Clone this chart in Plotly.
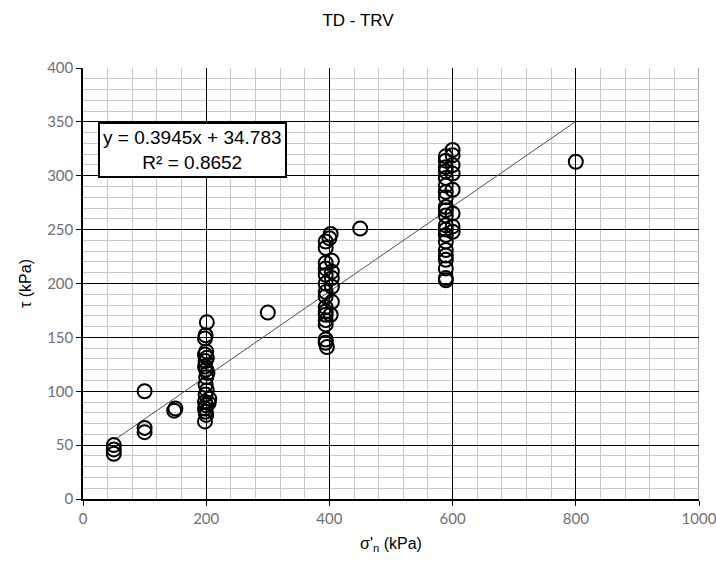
import plotly.graph_objects as go

# Data: effective normal stress (kPa) and shear stress (kPa)
sigma_n = [
    50, 50, 50,
    100, 100, 100,
    148, 150,
    201, 199, 198, 200, 198, 201, 199, 198, 200, 202, 200, 199, 201, 199, 205, 198, 204, 200, 198, 199, 200, 198,
    300,
    402, 400, 394, 394, 404, 394, 394, 404, 394, 404, 394, 404, 394, 394, 404, 394, 394, 394, 402, 394, 394, 394, 396, 394,
    450,
    600, 600, 589, 589, 600, 589, 589, 600, 589, 589, 600, 589, 589, 589, 589, 600, 589, 589, 600, 589, 600, 589, 589, 589, 589, 589, 589, 589, 589,
    800,
]
tau = [
    42, 46, 50,
    62, 66, 100,
    82, 84,
    164, 152, 149, 137, 134, 131, 128, 123, 120, 117, 113, 106, 101, 97, 93, 90, 89, 87, 84, 81, 78, 72,
    173,
    246, 242, 239, 233, 221, 219, 214, 211, 208, 205, 200, 197, 192, 188, 183, 178, 174, 171, 171, 166, 162, 148, 141, 145,
    251,
    324, 319, 318, 314, 310, 308, 304, 302, 298, 291, 287, 285, 280, 271, 268, 265, 263, 254, 253, 250, 248, 245, 239, 231, 226, 222, 214, 205, 203,
    313,
]

# Linear trendline reported on the chart
slope = 0.3945
intercept = 34.783
r2 = 0.8652
trend_x = [50, 800]
trend_y = [slope * v + intercept for v in trend_x]

x_ticks = [0, 200, 400, 600, 800, 1000]
y_ticks = [0, 50, 100, 150, 200, 250, 300, 350, 400]

fig = go.Figure()
fig.add_trace(go.Scatter(
    x=trend_x, y=trend_y, mode="lines",
    line=dict(color="#505050", width=1), showlegend=False, hoverinfo="skip",
))
fig.add_trace(go.Scatter(
    x=sigma_n, y=tau, mode="markers",
    marker=dict(symbol="circle-open", size=14, color="black", line=dict(width=2, color="black")),
    showlegend=False,
))

fig.add_annotation(
    x=178, y=324, xref="x", yref="y",
    text=f"y = {slope}x + {intercept}<br>R² = {r2}",
    showarrow=False, align="center",
    font=dict(family="Liberation Sans, Arial", size=19, color="black"),
    bgcolor="white", bordercolor="black", borderwidth=2, borderpad=3,
)

# right border of the plot area (gray in the reference)
fig.add_shape(type="line", xref="x", yref="paper", x0=1000, x1=1000, y0=0, y1=1,
              line=dict(color="#8c8c8c", width=1.5), layer="below")

tick_font = dict(family="Lato, Noto Sans, sans-serif", size=15, color="#707070")

fig.update_layout(
    width=716, height=564,
    margin=dict(l=83, r=17, t=68, b=65, autoexpand=False),
    paper_bgcolor="white", plot_bgcolor="white",
    title=dict(text="TD - TRV", x=0.5, xanchor="center", y=0.965, yanchor="middle",
               font=dict(family="Liberation Sans, Arial", size=17, color="black")),
    xaxis=dict(
        range=[0, 1000], tickvals=x_ticks, ticktext=[str(v) for v in x_ticks],
        ticks="outside", ticklen=5, tickcolor="black", automargin=False,
        ticklabeloverflow="allow",
        showline=True, linecolor="black", linewidth=1.5,
        showgrid=True, gridcolor="black", gridwidth=1,
        minor=dict(dtick=40, showgrid=True, gridcolor="#c8c8c8", gridwidth=1),
        tickfont=tick_font, zeroline=False,
        title=dict(text="σ'<sub>n</sub> (kPa)", standoff=12,
                   font=dict(family="Liberation Sans, Arial", size=16, color="black")),
    ),
    yaxis=dict(
        range=[0, 400], tickvals=y_ticks, ticktext=[str(v) for v in y_ticks],
        ticks="outside", ticklen=5, tickcolor="black", automargin=False,
        showline=True, linecolor="black", linewidth=1.5,
        showgrid=True, gridcolor="black", gridwidth=1,
        minor=dict(dtick=10, showgrid=True, gridcolor="#c8c8c8", gridwidth=1),
        tickfont=tick_font, zeroline=False,
        title=dict(text="τ (kPa)", standoff=12,
                   font=dict(family="Liberation Sans, Arial", size=16, color="black")),
    ),
)

fig.write_html("out.html")
